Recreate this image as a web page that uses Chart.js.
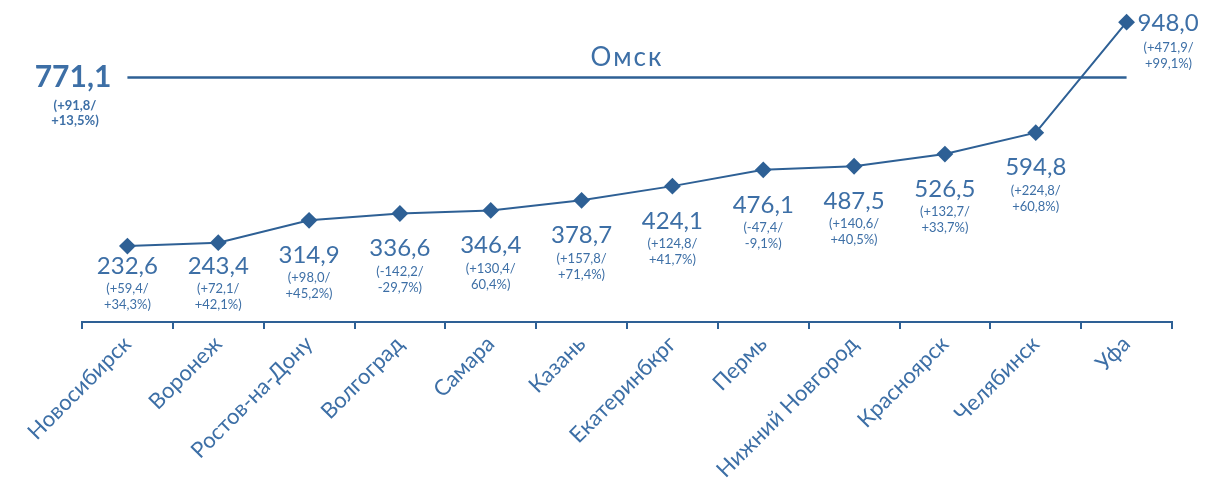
<!DOCTYPE html>
<html>
<head>
<meta charset="utf-8">
<script src="https://cdn.jsdelivr.net/npm/chart.js@4/dist/chart.umd.min.js"></script>
<style>
  html, body { margin: 0; padding: 0; background: #fff; }
  #wrap { width: 1209px; height: 484px; }
</style>
</head>
<body>
<div id="wrap"><canvas id="chart" width="1209" height="484"></canvas></div>
<script>
// города
var cities = ['Новосибирск', 'Воронеж', 'Ростов-на-Дону', 'Волгоград', 'Самара', 'Казань',
  'Екатеринбкрг', 'Пермь', 'Нижний Новгород', 'Красноярск', 'Челябинск', 'Уфа'];
var values = [232.6, 243.4, 314.9, 336.6, 346.4, 378.7, 424.1, 476.1, 487.5, 526.5, 594.8, 948.0];
var changeAbs = ['+59,4', '+72,1', '+98,0', '-142,2', '+130,4', '+157,8', '+124,8', '-47,4', '+140,6', '+132,7', '+224,8', '+471,9'];
var changePct = ['+34,3%', '+42,1%', '+45,2%', '-29,7%', '60,4%', '+71,4%', '+41,7%', '-9,1%', '+40,5%', '+33,7%', '+60,8%', '+99,1%'];

var refName = 'Омск';
var refValue = 771.1;
var refChange = ['(+91,8/', '+13,5%)'];

var lineColor = '#2e6095';
var textColor = '#3d6fa6';
var fontName = 'Lato, "Open Sans", sans-serif';

function fmt(v) {
  return v.toFixed(1).replace('.', ',');
}

var refLine = cities.map(function () { return refValue; });

// подписи точек
var labelsPlugin = {
  id: 'pointLabels',
  afterDatasetsDraw: function (chart) {
    var c = chart.ctx;
    var area = chart.chartArea;
    var pts = chart.getDatasetMeta(0).data;
    c.save();
    c.fillStyle = textColor;
    c.textBaseline = 'middle';
    pts.forEach(function (p, i) {
      var last = i === pts.length - 1;
      if (last) {
        c.textAlign = 'left';
        c.font = '24px ' + fontName;
        c.fillText(fmt(values[i]), p.x + 11, p.y + 1);
        c.textAlign = 'center';
        c.font = '13px ' + fontName;
        c.fillText('(' + changeAbs[i] + '/', p.x + 42, p.y + 26);
        c.fillText(changePct[i] + ')', p.x + 42, p.y + 42);
        return;
      }
      var d = Math.min(35, area.bottom - 56 - p.y);
      c.textAlign = 'center';
      c.font = '24px ' + fontName;
      c.fillText(fmt(values[i]), p.x, p.y + d);
      c.font = '13px ' + fontName;
      c.fillText('(' + changeAbs[i] + '/', p.x, p.y + d + 23);
      c.fillText(changePct[i] + ')', p.x, p.y + d + 39);
    });

    // Омск
    var ref = chart.getDatasetMeta(1).data;
    var y = ref[0].y;
    var xl = ref[0].x;
    var xr = ref[ref.length - 1].x;
    c.textAlign = 'center';
    c.font = '26px ' + fontName;
    c.letterSpacing = '2px';
    c.fillText(refName, (xl + xr) / 2, y - 20);
    c.letterSpacing = '0px';
    c.font = 'bold 30px ' + fontName;
    c.fillText(fmt(refValue), 73, y);
    c.font = 'bold 13px ' + fontName;
    c.fillText(refChange[0], 75, y + 28);
    c.fillText(refChange[1], 75, y + 43);
    c.restore();
  }
};

var ctx = document.getElementById('chart').getContext('2d');
var chart = new Chart(ctx, {
  type: 'line',
  data: {
    labels: cities,
    datasets: [{
      data: values,
      borderColor: lineColor,
      backgroundColor: lineColor,
      borderWidth: 2,
      pointStyle: 'rectRot',
      pointRadius: 7,
      pointHoverRadius: 7,
      tension: 0,
      clip: false
    }, {
      data: refLine,
      borderColor: lineColor,
      borderWidth: 2.5,
      pointRadius: 0,
      tension: 0
    }]
  },
  options: {
    responsive: false,
    animation: false,
    layout: { padding: { left: 82, right: 37, top: 3, bottom: 0 } },
    plugins: {
      legend: { display: false },
      tooltip: { enabled: false }
    },
    scales: {
      x: {
        offset: true,
        border: { display: true, color: lineColor, width: 2 },
        grid: {
          offset: true,
          drawOnChartArea: false,
          drawTicks: true,
          tickLength: 7,
          color: lineColor,
          lineWidth: 2
        },
        ticks: {
          color: textColor,
          font: { family: fontName, size: 22 },
          minRotation: 45,
          maxRotation: 45,
          autoSkip: false,
          padding: 2
        },
        afterFit: function (s) { s.height = 162; }
      },
      y: {
        display: false,
        min: -10,
        max: 990
      }
    }
  },
  plugins: [labelsPlugin]
});
</script>
</body>
</html>
